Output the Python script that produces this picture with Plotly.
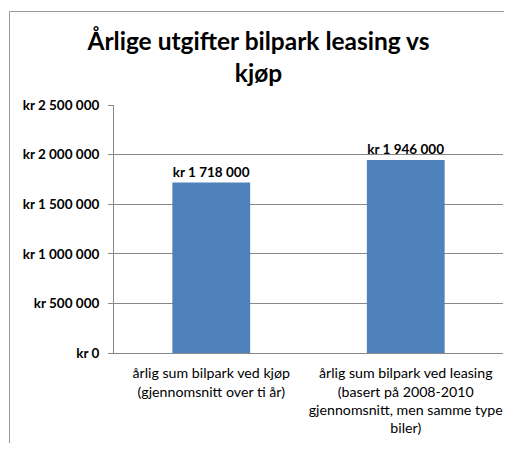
import plotly.graph_objects as go

categories = ["årlig sum bilpark ved kjøp<br>(gjennomsnitt over ti år)",
              "årlig sum bilpark ved leasing<br>(basert på 2008-2010<br>gjennomsnitt, men samme type<br>biler)"]
values = [1718000, 1946000]
tick_vals = [0, 500000, 1000000, 1500000, 2000000, 2500000]
tick_labels = ["kr 0", "kr 500 000", "kr 1 000 000", "kr 1 500 000", "kr 2 000 000", "kr 2 500 000"]
title = "Årlige utgifter bilpark leasing vs<br>kjøp"

def fmt(v):
    return "kr " + f"{v:,}".replace(",", " ")

FONT = "Lato, Carlito, Calibri, sans-serif"

# the page has the browser's default 8px body margin on every side, so the
# figure is made 16px smaller than the window to avoid scrollbars
W, H = 496, 435
L, T, B, R = 106, 97, 90, 1
PW, PH = W - L - R, H - T - B

fig = go.Figure(go.Bar(
    x=[0, 1], y=values, width=0.4,
    marker=dict(color="#4F81BD", line=dict(width=0)),
    text=[f"<b>{fmt(v)}</b>" for v in values],
    textposition="outside", cliponaxis=False,
    textfont=dict(family=FONT, size=13.5, color="#000000"),
))

bx0 = (1.5 - L) / PW
by1 = (PH + T - 3.5) / PH
fig.update_layout(
    width=W, height=H,
    margin=dict(l=L, r=R, t=T, b=B, autoexpand=False),
    paper_bgcolor="white", plot_bgcolor="white",
    showlegend=False,
    title=dict(text=f"<b>{title}</b>", x=250.5 / W, xanchor="center", y=1 - 42 / H, yanchor="top",
               automargin=False,
               font=dict(family=FONT, size=24.5, color="#000000")),
    font=dict(family=FONT, color="#000000"),
    xaxis=dict(tickvals=[0, 1], ticktext=categories, range=[-0.5, 1.5],
               showline=True, linecolor="#888888", linewidth=1, ticks="",
               ticklabelstandoff=7, automargin=False, ticklabeloverflow="allow",
               tickangle=0,
               tickfont=dict(family=FONT, size=14.2), showgrid=False),
    yaxis=dict(range=[0, 2500000], tickvals=tick_vals,
               ticktext=[f"<b>{t}</b>" for t in tick_labels],
               showline=True, linecolor="#888888", linewidth=1,
               ticks="outside", ticklen=5, tickcolor="#888888",
               ticklabelstandoff=6, automargin=False,
               gridcolor="#888888", gridwidth=1,
               tickfont=dict(family=FONT, size=13.5), zeroline=False),
    shapes=[
        dict(type="line", xref="paper", yref="paper",
             x0=bx0, x1=(W + 20 - L) / PW, y0=by1, y1=by1,
             line=dict(color="#999999", width=1), layer="below"),
        dict(type="line", xref="paper", yref="paper",
             x0=bx0, x1=bx0, y0=by1, y1=-(B + 30) / PH,
             line=dict(color="#999999", width=1), layer="below"),
    ],
)

fig.write_html("out.html")
